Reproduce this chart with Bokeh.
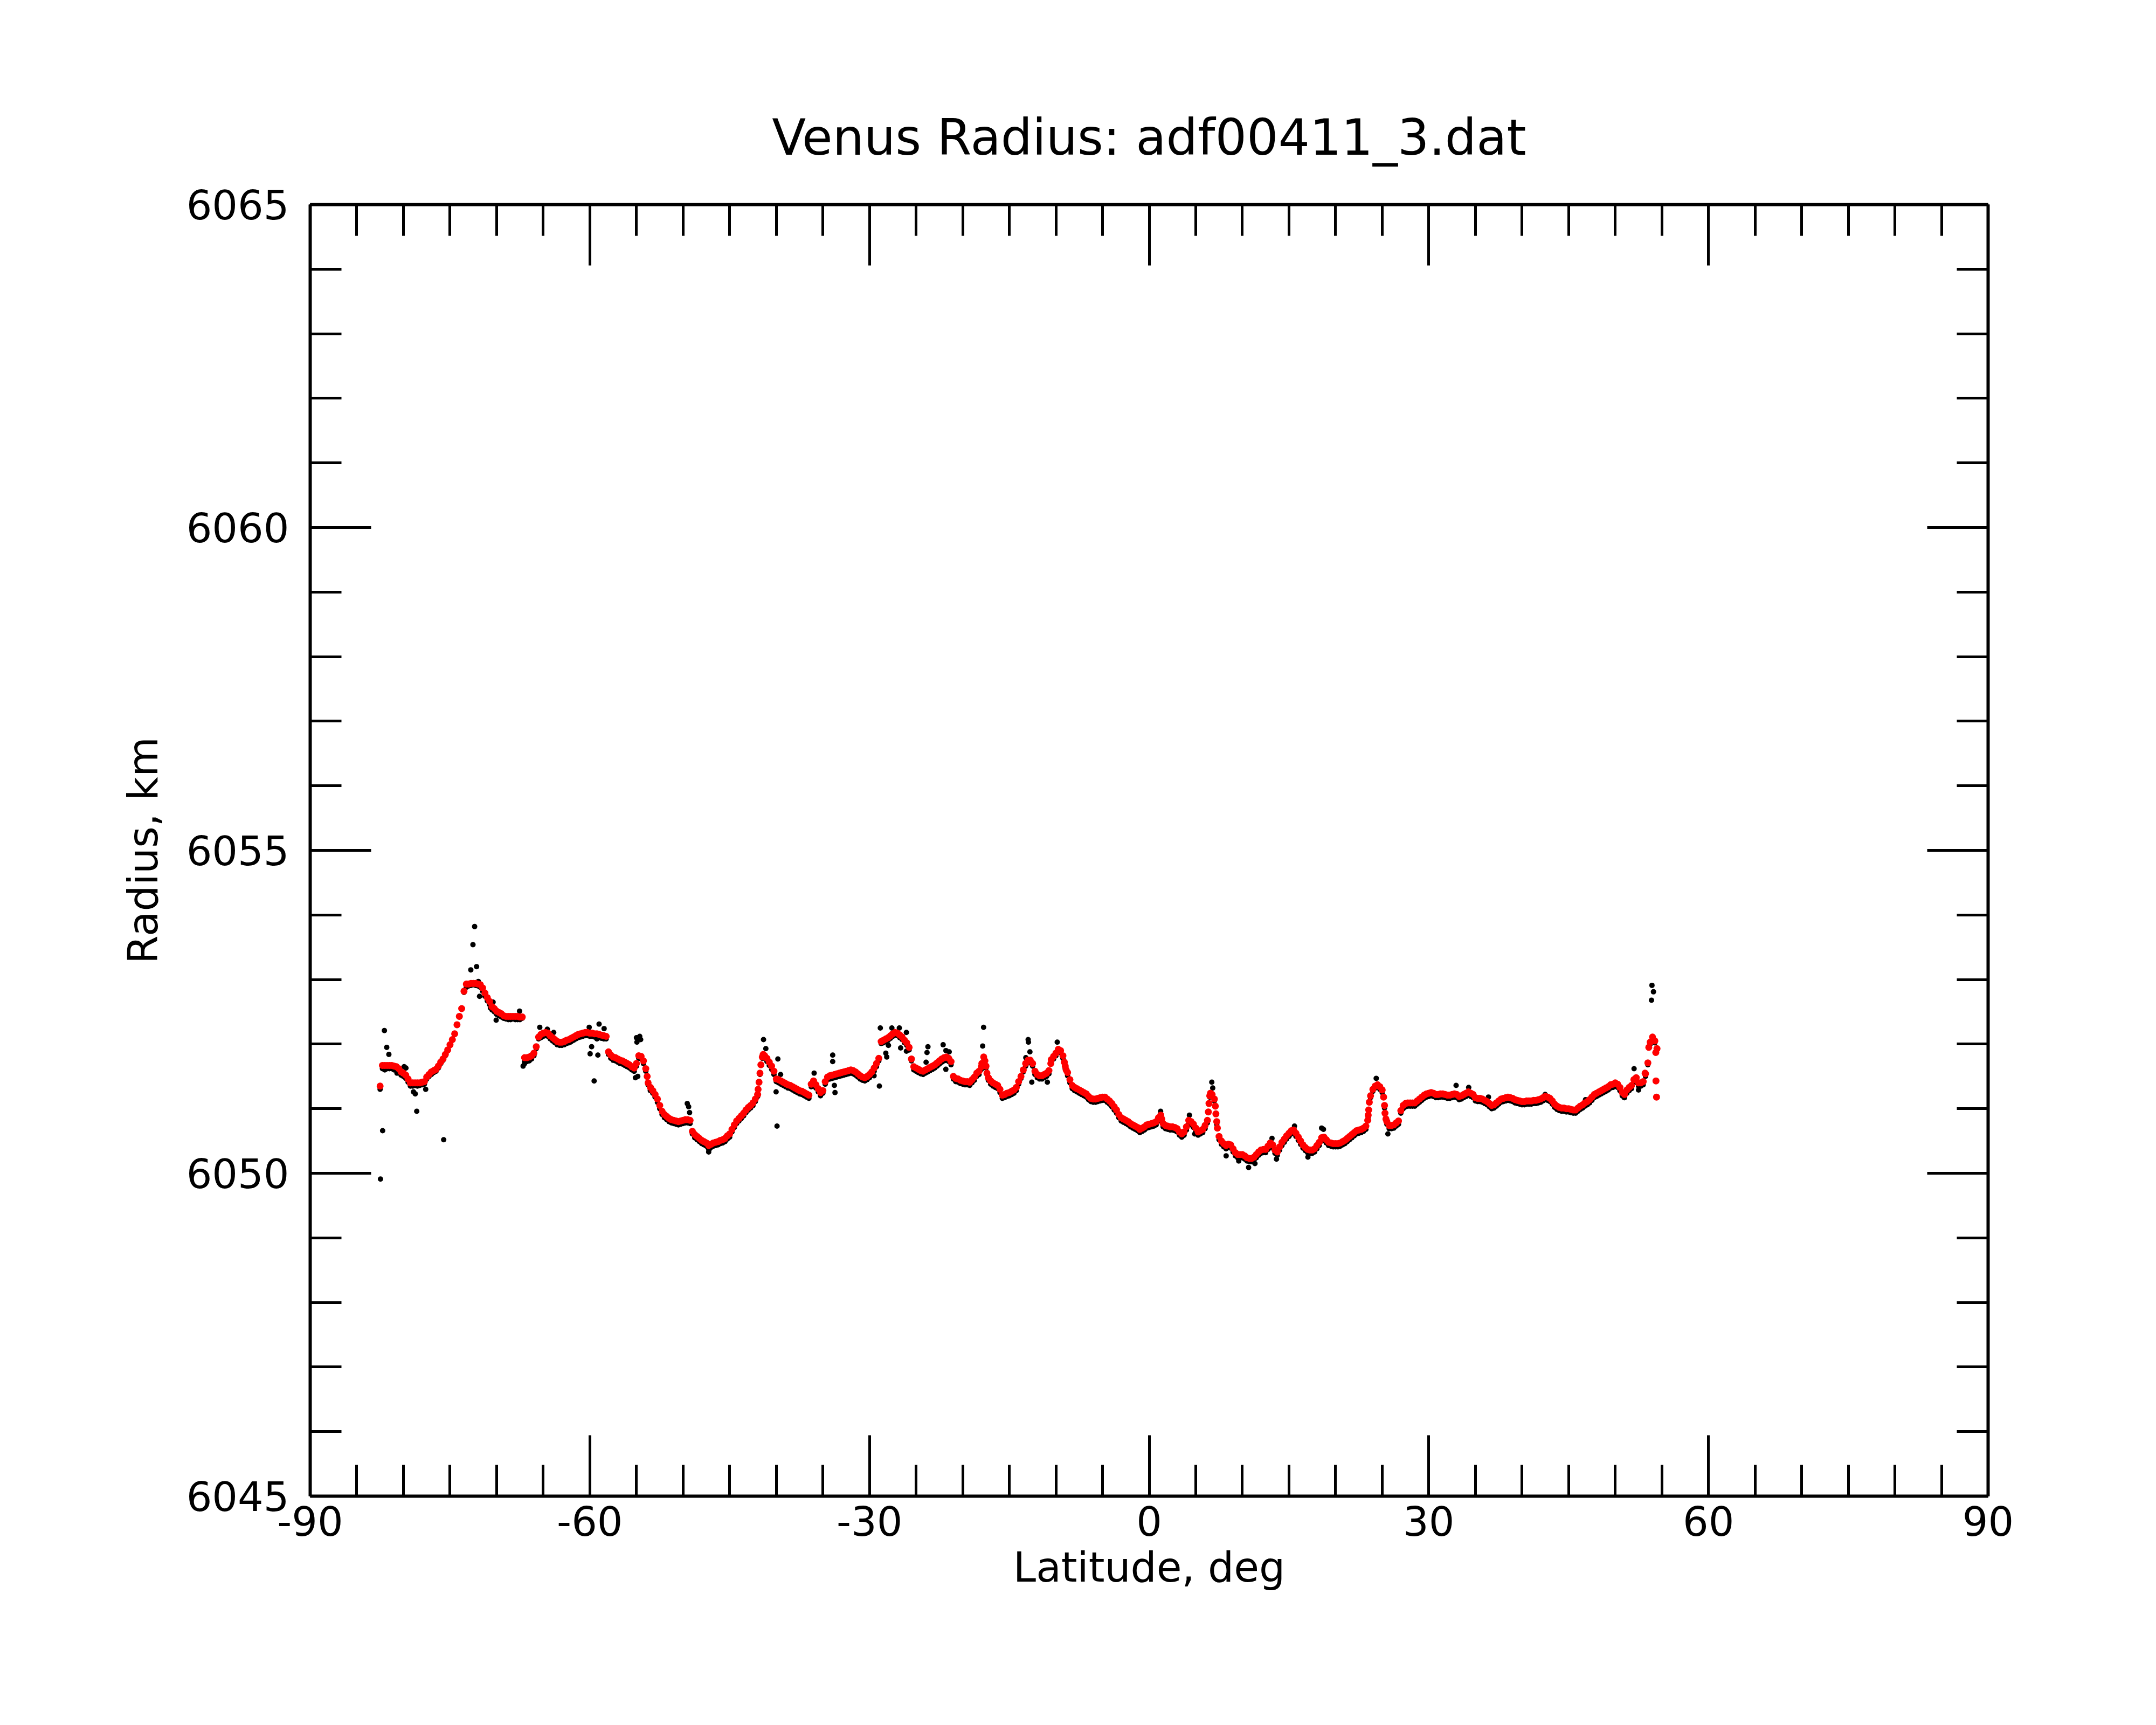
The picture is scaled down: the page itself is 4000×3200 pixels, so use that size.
import numpy as np
from bokeh.plotting import figure
from bokeh.models import (Range1d, LinearAxis, FixedTicker, PrintfTickFormatter,
                          CustomJSTickFormatter, ColumnDataSource)
from bokeh.embed import file_html
from bokeh.resources import INLINE

TITLE = "Venus Radius: adf00411_3.dat"
X_LABEL = "Latitude, deg"
Y_LABEL = "Radius, km"
x_major_ticks = [-90, -60, -30, 0, 30, 60, 90]
x_minor_ticks = list(range(-90, 91, 5))
y_major_ticks = [6045, 6050, 6055, 6060, 6065]
y_minor_ticks = list(range(6045, 6066))

# latitude sampling of the profile (deg)
LAT_START = -82.5
LAT_STEP = 0.25

# smoothed radius (red), one row = 1 degree, starting at LAT_START
smoothed_radius = [
    6051.35, 6051.67, 6051.67, 6051.67,  # -82.5
    6051.67, 6051.67, 6051.66, 6051.65,  # -81.5
    6051.62, 6051.57, 6051.55, 6051.52,  # -80.5
    6051.46, 6051.40, 6051.40, 6051.40,  # -79.5
    6051.40, 6051.40, 6051.41, 6051.42,  # -78.5
    6051.49, 6051.53, 6051.57, 6051.59,  # -77.5
    6051.61, 6051.66, 6051.72, 6051.77,  # -76.5
    6051.84, 6051.91, 6051.99, 6052.07,  # -75.5
    6052.16, 6052.30, 6052.43, 6052.55,  # -74.5
    6052.82, 6052.93, 6052.93, 6052.94,  # -73.5
    6052.94, 6052.94, 6052.93, 6052.92,  # -72.5
    6052.87, 6052.79, 6052.72, 6052.66,  # -71.5
    6052.58, 6052.55, 6052.51, 6052.49,  # -70.5
    6052.47, 6052.44, 6052.43, 6052.43,  # -69.5
    6052.43, 6052.43, 6052.43, 6052.43,  # -68.5
    6052.42, 6052.42, 6051.79, 6051.79,  # -67.5
    6051.80, 6051.82, 6051.86, 6051.96,  # -66.5
    6052.11, 6052.15, 6052.17, 6052.18,  # -65.5
    6052.17, 6052.13, 6052.10, 6052.07,  # -64.5
    6052.04, 6052.03, 6052.03, 6052.04,  # -63.5
    6052.06, 6052.07, 6052.09, 6052.11,  # -62.5
    6052.13, 6052.15, 6052.16, 6052.17,  # -61.5
    6052.18, 6052.18, 6052.17, 6052.17,  # -60.5
    6052.16, 6052.16, 6052.15, 6052.14,  # -59.5
    6052.13, 6052.12, 6051.88, 6051.83,  # -58.5
    6051.80, 6051.79, 6051.77, 6051.75,  # -57.5
    6051.74, 6051.72, 6051.70, 6051.68,  # -56.5
    6051.65, 6051.63, 6051.70, 6051.82,  # -55.5
    6051.81, 6051.74, 6051.62, 6051.40,  # -54.5
    6051.33, 6051.28, 6051.22, 6051.15,  # -53.5
    6051.05, 6050.96, 6050.91, 6050.88,  # -52.5
    6050.85, 6050.83, 6050.82, 6050.81,  # -51.5
    6050.80, 6050.81, 6050.82, 6050.83,  # -50.5
    6050.83, 6050.82, 6050.65, 6050.60,  # -49.5
    6050.57, 6050.54, 6050.51, 6050.49,  # -48.5
    6050.47, 6050.43, 6050.45, 6050.47,  # -47.5
    6050.48, 6050.49, 6050.51, 6050.52,  # -46.5
    6050.54, 6050.58, 6050.61, 6050.68,  # -45.5
    6050.75, 6050.81, 6050.85, 6050.89,  # -44.5
    6050.93, 6050.98, 6051.02, 6051.05,  # -43.5
    6051.09, 6051.15, 6051.22, 6051.55,  # -42.5
    6051.80, 6051.82, 6051.78, 6051.72,  # -41.5
    6051.66, 6051.58, 6051.46, 6051.45,  # -40.5
    6051.43, 6051.41, 6051.39, 6051.37,  # -39.5
    6051.36, 6051.34, 6051.32, 6051.30,  # -38.5
    6051.28, 6051.27, 6051.25, 6051.23,  # -37.5
    6051.21, 6051.38, 6051.43, 6051.37,  # -36.5
    6051.31, 6051.25, 6051.28, 6051.42,  # -35.5
    6051.49, 6051.51, 6051.52, 6051.53,  # -34.5
    6051.54, 6051.55, 6051.56, 6051.57,  # -33.5
    6051.58, 6051.59, 6051.60, 6051.59,  # -32.5
    6051.57, 6051.54, 6051.51, 6051.49,  # -31.5
    6051.48, 6051.50, 6051.53, 6051.57,  # -30.5
    6051.63, 6051.70, 6051.78, 6052.04,  # -29.5
    6052.06, 6052.08, 6052.10, 6052.13,  # -28.5
    6052.16, 6052.18, 6052.17, 6052.14,  # -27.5
    6052.11, 6052.06, 6052.02, 6051.95,  # -26.5
    6051.77, 6051.65, 6051.63, 6051.61,  # -25.5
    6051.59, 6051.58, 6051.60, 6051.62,  # -24.5
    6051.64, 6051.66, 6051.68, 6051.71,  # -23.5
    6051.74, 6051.77, 6051.79, 6051.80,  # -22.5
    6051.78, 6051.73, 6051.50, 6051.47,  # -21.5
    6051.46, 6051.44, 6051.43, 6051.42,  # -20.5
    6051.42, 6051.41, 6051.45, 6051.49,  # -19.5
    6051.55, 6051.58, 6051.65, 6051.80,  # -18.5
    6051.66, 6051.48, 6051.43, 6051.40,  # -17.5
    6051.38, 6051.36, 6051.30, 6051.21,  # -16.5
    6051.22, 6051.24, 6051.25, 6051.27,  # -15.5
    6051.29, 6051.33, 6051.42, 6051.50,  # -14.5
    6051.60, 6051.70, 6051.75, 6051.75,  # -13.5
    6051.70, 6051.58, 6051.53, 6051.51,  # -12.5
    6051.51, 6051.53, 6051.55, 6051.59,  # -11.5
    6051.76, 6051.81, 6051.86, 6051.92,  # -10.5
    6051.90, 6051.82, 6051.66, 6051.56,  # -9.5
    6051.45, 6051.36, 6051.33, 6051.31,  # -8.5
    6051.29, 6051.27, 6051.25, 6051.23,  # -7.5
    6051.19, 6051.16, 6051.15, 6051.15,  # -6.5
    6051.16, 6051.17, 6051.18, 6051.18,  # -5.5
    6051.15, 6051.12, 6051.08, 6051.03,  # -4.5
    6050.98, 6050.91, 6050.86, 6050.84,  # -3.5
    6050.82, 6050.80, 6050.77, 6050.75,  # -2.5
    6050.73, 6050.71, 6050.68, 6050.70,  # -1.5
    6050.72, 6050.75, 6050.76, 6050.77,  # -0.5
    6050.78, 6050.80, 6050.86, 6050.90,  # 0.5
    6050.77, 6050.74, 6050.73, 6050.72,  # 1.5
    6050.72, 6050.71, 6050.69, 6050.64,  # 2.5
    6050.61, 6050.64, 6050.72, 6050.82,  # 3.5
    6050.80, 6050.76, 6050.70, 6050.64,  # 4.5
    6050.66, 6050.68, 6050.74, 6050.82,  # 5.5
    6051.20, 6051.22, 6051.15, 6050.80,  # 6.5
    6050.57, 6050.50, 6050.46, 6050.43,  # 7.5
    6050.45, 6050.44, 6050.38, 6050.32,  # 8.5
    6050.29, 6050.29, 6050.29, 6050.27,  # 9.5
    6050.24, 6050.23, 6050.23, 6050.25,  # 10.5
    6050.29, 6050.33, 6050.36, 6050.37,  # 11.5
    6050.37, 6050.42, 6050.47, 6050.44,  # 12.5
    6050.36, 6050.33, 6050.41, 6050.48,  # 13.5
    6050.53, 6050.58, 6050.62, 6050.66,  # 14.5
    6050.67, 6050.62, 6050.56, 6050.50,  # 15.5
    6050.44, 6050.40, 6050.37, 6050.36,  # 16.5
    6050.36, 6050.38, 6050.43, 6050.48,  # 17.5
    6050.55, 6050.56, 6050.52, 6050.48,  # 18.5
    6050.47, 6050.46, 6050.46, 6050.46,  # 19.5
    6050.47, 6050.49, 6050.51, 6050.54,  # 20.5
    6050.57, 6050.60, 6050.63, 6050.66,  # 21.5
    6050.67, 6050.68, 6050.70, 6050.73,  # 22.5
    6050.90, 6051.20, 6051.30, 6051.35,  # 23.5
    6051.37, 6051.34, 6051.29, 6051.05,  # 24.5
    6050.80, 6050.74, 6050.74, 6050.75,  # 25.5
    6050.78, 6050.81, 6050.97, 6051.05,  # 26.5
    6051.08, 6051.09, 6051.09, 6051.09,  # 27.5
    6051.09, 6051.12, 6051.15, 6051.18,  # 28.5
    6051.21, 6051.23, 6051.24, 6051.25,  # 29.5
    6051.24, 6051.22, 6051.22, 6051.23,  # 30.5
    6051.23, 6051.22, 6051.21, 6051.21,  # 31.5
    6051.22, 6051.23, 6051.22, 6051.19,  # 32.5
    6051.20, 6051.22, 6051.24, 6051.26,  # 33.5
    6051.24, 6051.22, 6051.17, 6051.16,  # 34.5
    6051.16, 6051.15, 6051.13, 6051.11,  # 35.5
    6051.08, 6051.05, 6051.06, 6051.09,  # 36.5
    6051.12, 6051.15, 6051.16, 6051.17,  # 37.5
    6051.18, 6051.17, 6051.16, 6051.14,  # 38.5
    6051.13, 6051.12, 6051.11, 6051.11,  # 39.5
    6051.12, 6051.12, 6051.12, 6051.13,  # 40.5
    6051.13, 6051.14, 6051.15, 6051.17,  # 41.5
    6051.19, 6051.18, 6051.16, 6051.12,  # 42.5
    6051.07, 6051.04, 6051.02, 6051.01,  # 43.5
    6051.01, 6051.00, 6051.00, 6050.99,  # 44.5
    6050.98, 6050.98, 6051.01, 6051.04,  # 45.5
    6051.06, 6051.09, 6051.11, 6051.14,  # 46.5
    6051.18, 6051.22, 6051.24, 6051.26,  # 47.5
    6051.28, 6051.30, 6051.32, 6051.34,  # 48.5
    6051.37, 6051.38, 6051.40, 6051.38,  # 49.5
    6051.33, 6051.25, 6051.22, 6051.29,  # 50.5
    6051.33, 6051.36, 6051.45, 6051.48,  # 51.5
    6051.40, 6051.40, 6051.42, 6051.54,  # 52.5
    6051.71, 6052.03, 6052.11, 6052.05,  # 53.5
]

# extra smoothed samples on steep flanks and at the end of the pass
smoothed_extra_lat = [-53.85, -41.95, -41.85, -41.65, -41.40, -17.95, -17.62, -17.40,
                      -10.55, -9.10, -8.90, 1.35, 6.35, 6.42, 6.58, 7.10, 7.16, 7.32,
                      23.45, 23.55, 23.62, 25.15, 25.30, 25.40,
                      53.20, 53.60, 54.35, 54.48, 54.37, 54.43]
smoothed_extra_radius = [6051.50, 6051.30, 6051.41, 6051.68, 6051.84, 6051.70, 6051.74, 6051.55,
                         6051.70, 6051.72, 6051.60, 6050.84, 6050.95, 6051.08, 6051.24, 6051.04, 6050.92, 6050.70,
                         6050.82, 6050.98, 6051.10, 6051.18, 6050.93, 6050.84,
                         6051.55, 6051.95, 6051.87, 6051.93, 6051.43, 6051.18]

# raw radius (black), same latitude sampling as the smoothed profile
raw_radius = [
    6051.30, 6051.62, 6051.60, 6051.62,  # -82.5
    6051.62, 6051.62, 6051.60, 6051.60,  # -81.5
    6051.57, 6051.52, 6051.50, 6051.47,  # -80.5
    6051.41, 6051.35, 6051.35, 6051.36,  # -79.5
    6051.35, 6051.36, 6051.37, 6051.38,  # -78.5
    6051.46, 6051.50, 6051.53, 6051.56,  # -77.5
    6051.58, 6051.63, 6051.70, 6051.75,  # -76.5
    6051.82, 6051.90, 6051.98, 6052.06,  # -75.5
    6052.15, 6052.29, 6052.42, 6052.54,  # -74.5
    6052.80, 6052.88, 6052.90, 6052.91,  # -73.5
    6052.92, 6052.91, 6052.90, 6052.88,  # -72.5
    6052.82, 6052.74, 6052.67, 6052.61,  # -71.5
    6052.53, 6052.50, 6052.46, 6052.44,  # -70.5
    6052.42, 6052.40, 6052.39, 6052.38,  # -69.5
    6052.38, 6052.39, 6052.38, 6052.38,  # -68.5
    6052.38, 6052.40, 6051.73, 6051.73,  # -67.5
    6051.74, 6051.77, 6051.82, 6051.93,  # -66.5
    6052.08, 6052.10, 6052.12, 6052.13,  # -65.5
    6052.12, 6052.08, 6052.05, 6052.02,  # -64.5
    6051.99, 6051.98, 6051.98, 6051.99,  # -63.5
    6052.01, 6052.02, 6052.04, 6052.06,  # -62.5
    6052.08, 6052.10, 6052.11, 6052.12,  # -61.5
    6052.13, 6052.13, 6052.12, 6052.12,  # -60.5
    6052.11, 6052.11, 6052.10, 6052.09,  # -59.5
    6052.08, 6052.08, 6051.84, 6051.78,  # -58.5
    6051.75, 6051.74, 6051.72, 6051.70,  # -57.5
    6051.69, 6051.67, 6051.65, 6051.63,  # -56.5
    6051.60, 6051.58, 6051.66, 6051.78,  # -55.5
    6051.77, 6051.70, 6051.58, 6051.37,  # -54.5
    6051.29, 6051.24, 6051.18, 6051.10,  # -53.5
    6051.00, 6050.91, 6050.86, 6050.83,  # -52.5
    6050.80, 6050.78, 6050.77, 6050.76,  # -51.5
    6050.75, 6050.76, 6050.77, 6050.78,  # -50.5
    6050.78, 6050.77, 6050.61, 6050.55,  # -49.5
    6050.52, 6050.49, 6050.46, 6050.44,  # -48.5
    6050.42, 6050.37, 6050.40, 6050.42,  # -47.5
    6050.43, 6050.44, 6050.46, 6050.47,  # -46.5
    6050.49, 6050.53, 6050.56, 6050.64,  # -45.5
    6050.71, 6050.77, 6050.81, 6050.85,  # -44.5
    6050.89, 6050.94, 6050.98, 6051.01,  # -43.5
    6051.05, 6051.11, 6051.19, 6051.53,  # -42.5
    6051.78, 6051.78, 6051.73, 6051.67,  # -41.5
    6051.61, 6051.53, 6051.42, 6051.40,  # -40.5
    6051.38, 6051.36, 6051.34, 6051.32,  # -39.5
    6051.31, 6051.29, 6051.27, 6051.25,  # -38.5
    6051.23, 6051.22, 6051.20, 6051.18,  # -37.5
    6051.16, 6051.34, 6051.39, 6051.32,  # -36.5
    6051.26, 6051.20, 6051.24, 6051.38,  # -35.5
    6051.45, 6051.46, 6051.47, 6051.48,  # -34.5
    6051.49, 6051.50, 6051.51, 6051.52,  # -33.5
    6051.53, 6051.54, 6051.55, 6051.54,  # -32.5
    6051.52, 6051.49, 6051.46, 6051.44,  # -31.5
    6051.43, 6051.45, 6051.48, 6051.52,  # -30.5
    6051.58, 6051.65, 6051.74, 6052.01,  # -29.5
    6052.02, 6052.04, 6052.06, 6052.09,  # -28.5
    6052.12, 6052.14, 6052.13, 6052.10,  # -27.5
    6052.07, 6052.02, 6051.98, 6051.91,  # -26.5
    6051.74, 6051.60, 6051.58, 6051.56,  # -25.5
    6051.54, 6051.53, 6051.55, 6051.57,  # -24.5
    6051.59, 6051.61, 6051.63, 6051.66,  # -23.5
    6051.69, 6051.72, 6051.74, 6051.75,  # -22.5
    6051.73, 6051.68, 6051.46, 6051.42,  # -21.5
    6051.41, 6051.39, 6051.38, 6051.37,  # -20.5
    6051.37, 6051.36, 6051.40, 6051.44,  # -19.5
    6051.50, 6051.53, 6051.61, 6051.78,  # -18.5
    6051.63, 6051.44, 6051.38, 6051.35,  # -17.5
    6051.33, 6051.31, 6051.25, 6051.16,  # -16.5
    6051.17, 6051.19, 6051.20, 6051.22,  # -15.5
    6051.24, 6051.28, 6051.38, 6051.47,  # -14.5
    6051.57, 6051.66, 6051.71, 6051.71,  # -13.5
    6051.66, 6051.53, 6051.48, 6051.46,  # -12.5
    6051.46, 6051.48, 6051.50, 6051.54,  # -11.5
    6051.72, 6051.77, 6051.82, 6051.89,  # -10.5
    6051.87, 6051.78, 6051.62, 6051.51,  # -9.5
    6051.40, 6051.31, 6051.28, 6051.26,  # -8.5
    6051.24, 6051.22, 6051.20, 6051.18,  # -7.5
    6051.14, 6051.11, 6051.10, 6051.10,  # -6.5
    6051.11, 6051.12, 6051.13, 6051.13,  # -5.5
    6051.10, 6051.07, 6051.03, 6050.98,  # -4.5
    6050.93, 6050.86, 6050.81, 6050.79,  # -3.5
    6050.77, 6050.75, 6050.72, 6050.70,  # -2.5
    6050.68, 6050.66, 6050.63, 6050.65,  # -1.5
    6050.67, 6050.70, 6050.71, 6050.72,  # -0.5
    6050.73, 6050.75, 6050.81, 6050.86,  # 0.5
    6050.72, 6050.69, 6050.68, 6050.67,  # 1.5
    6050.67, 6050.66, 6050.64, 6050.59,  # 2.5
    6050.56, 6050.59, 6050.67, 6050.78,  # 3.5
    6050.75, 6050.71, 6050.65, 6050.59,  # 4.5
    6050.61, 6050.63, 6050.69, 6050.78,  # 5.5
    6051.18, 6051.19, 6051.12, 6050.76,  # 6.5
    6050.52, 6050.45, 6050.41, 6050.38,  # 7.5
    6050.40, 6050.39, 6050.33, 6050.27,  # 8.5
    6050.24, 6050.24, 6050.24, 6050.22,  # 9.5
    6050.19, 6050.18, 6050.18, 6050.20,  # 10.5
    6050.24, 6050.28, 6050.31, 6050.32,  # 11.5
    6050.32, 6050.37, 6050.42, 6050.39,  # 12.5
    6050.31, 6050.28, 6050.36, 6050.43,  # 13.5
    6050.48, 6050.53, 6050.57, 6050.61,  # 14.5
    6050.62, 6050.57, 6050.51, 6050.45,  # 15.5
    6050.39, 6050.35, 6050.32, 6050.31,  # 16.5
    6050.31, 6050.33, 6050.38, 6050.43,  # 17.5
    6050.50, 6050.51, 6050.47, 6050.43,  # 18.5
    6050.42, 6050.41, 6050.41, 6050.41,  # 19.5
    6050.42, 6050.44, 6050.46, 6050.49,  # 20.5
    6050.52, 6050.55, 6050.58, 6050.61,  # 21.5
    6050.62, 6050.63, 6050.65, 6050.68,  # 22.5
    6050.87, 6051.17, 6051.27, 6051.32,  # 23.5
    6051.34, 6051.30, 6051.25, 6051.01,  # 24.5
    6050.76, 6050.69, 6050.69, 6050.70,  # 25.5
    6050.73, 6050.76, 6050.93, 6051.00,  # 26.5
    6051.03, 6051.04, 6051.04, 6051.04,  # 27.5
    6051.04, 6051.07, 6051.10, 6051.13,  # 28.5
    6051.16, 6051.18, 6051.19, 6051.20,  # 29.5
    6051.19, 6051.17, 6051.17, 6051.18,  # 30.5
    6051.18, 6051.17, 6051.16, 6051.16,  # 31.5
    6051.17, 6051.18, 6051.17, 6051.14,  # 32.5
    6051.15, 6051.17, 6051.19, 6051.21,  # 33.5
    6051.19, 6051.17, 6051.12, 6051.11,  # 34.5
    6051.11, 6051.10, 6051.08, 6051.06,  # 35.5
    6051.03, 6051.00, 6051.01, 6051.04,  # 36.5
    6051.07, 6051.10, 6051.11, 6051.12,  # 37.5
    6051.13, 6051.12, 6051.11, 6051.09,  # 38.5
    6051.08, 6051.07, 6051.06, 6051.06,  # 39.5
    6051.07, 6051.07, 6051.07, 6051.08,  # 40.5
    6051.08, 6051.09, 6051.10, 6051.12,  # 41.5
    6051.14, 6051.13, 6051.11, 6051.07,  # 42.5
    6051.02, 6050.99, 6050.97, 6050.96,  # 43.5
    6050.96, 6050.95, 6050.95, 6050.94,  # 44.5
    6050.93, 6050.93, 6050.96, 6050.99,  # 45.5
    6051.01, 6051.04, 6051.06, 6051.09,  # 46.5
    6051.13, 6051.17, 6051.19, 6051.21,  # 47.5
    6051.23, 6051.25, 6051.27, 6051.29,  # 48.5
    6051.32, 6051.33, 6051.35, 6051.33,  # 49.5
    6051.28, 6051.20, 6051.17, 6051.24,  # 50.5
    6051.28, 6051.31, 6051.40, 6051.43,  # 51.5
    6051.35, 6051.35, 6051.37, 6051.50,  # 52.5
    6051.68, 6052.00, 6052.08, 6052.02,  # 53.5
]

# raw samples that stand away from the smoothed profile
raw_outlier_lat = [
    -82.46, -82.23, -82.04, -81.79, -81.56, -80.69, -79.92, -79.73, -79.25, -78.92,
    -78.73, -78.57, -77.61, -75.68, -72.77, -72.54, -72.36, -72.15, -71.96, -71.83,
    -70.67, -70.38, -70.05, -67.54, -67.16, -67.00, -65.37, -64.56, -63.88, -63.05,
    -62.09, -60.07, -59.97, -59.81, -59.54, -59.24, -59.14, -59.01, -58.47, -55.25,
    -55.11, -55.00, -54.95, -54.65, -54.55, -54.86, -53.51, -49.55, -49.40, -49.30,
    -47.25, -47.15, -41.37, -41.12, -39.83, -40.02, -39.92, -39.54, -35.94, -33.95,
    -33.95, -33.77, -33.70, -29.51, -28.94, -28.84, -28.25, -28.15, -27.97, -27.60,
    -26.80, -26.66, -26.04, -26.04, -23.73, -23.83, -23.93, -22.10, -21.80, -21.45,
    -21.81, -17.76, -17.86, -12.98, -12.95, -12.79, -13.23, -12.59, -10.92, -9.86,
    1.23, 3.54, 4.32, 4.89, 6.72, 6.82, 8.26, 9.61, 10.67, 11.35,
    13.18, 13.66, 15.59, 17.03, 18.50, 18.70, 24.36, 25.61, 32.93, 34.28,
    36.40, 42.48, 46.81, 50.96, 52.02, 52.50, 53.94, 54.10, 53.89,
]
raw_outlier_radius = [
    6049.91, 6050.66, 6052.21, 6051.95, 6051.84, 6051.55, 6051.65, 6051.63, 6051.36, 6051.26,
    6051.23, 6050.96, 6051.30, 6050.52, 6053.15, 6053.54, 6053.82, 6053.20, 6052.97, 6052.74,
    6052.56, 6052.65, 6052.37, 6052.51, 6051.66, 6051.70, 6052.26, 6052.23, 6052.18, 6051.99,
    6052.03, 6052.26, 6051.85, 6051.96, 6051.43, 6052.08, 6051.83, 6052.31, 6052.24, 6051.58,
    6051.48, 6052.10, 6052.03, 6052.12, 6052.07, 6051.50, 6051.28, 6051.08, 6051.03, 6050.94,
    6050.33, 6050.38, 6052.07, 6051.93, 6051.77, 6051.26, 6050.73, 6051.53, 6051.55, 6051.83,
    6051.73, 6051.36, 6051.25, 6051.51, 6051.35, 6052.25, 6051.86, 6051.80, 6051.98, 6052.25,
    6052.25, 6051.94, 6052.18, 6051.89, 6051.96, 6051.87, 6051.72, 6051.99, 6051.90, 6051.88,
    6051.61, 6052.26, 6051.97, 6052.07, 6052.03, 6051.88, 6051.79, 6051.41, 6051.41, 6052.03,
    6050.96, 6050.57, 6050.90, 6050.61, 6051.41, 6051.32, 6050.27, 6050.19, 6050.09, 6050.15,
    6050.54, 6050.22, 6050.73, 6050.25, 6050.70, 6050.68, 6051.47, 6050.61, 6051.36, 6051.33,
    6051.18, 6051.22, 6051.14, 6051.17, 6051.62, 6051.29, 6052.91, 6052.81, 6052.68,
]

FONT = "DejaVu Sans"

raw_lat = LAT_START + LAT_STEP * np.arange(len(raw_radius))
smooth_lat = LAT_START + LAT_STEP * np.arange(len(smoothed_radius))

raw_src = ColumnDataSource(dict(
    lat=list(raw_lat) + raw_outlier_lat,
    radius=raw_radius + raw_outlier_radius,
))
smooth_src = ColumnDataSource(dict(
    lat=list(smooth_lat) + smoothed_extra_lat,
    radius=smoothed_radius + smoothed_extra_radius,
))

p = figure(width=3984, height=3184,
           x_range=Range1d(-90, 90), y_range=Range1d(6045, 6065),
           output_backend="svg", toolbar_location=None,
           min_border_left=575, min_border_right=296,
           min_border_top=379, min_border_bottom=409,
           background_fill_color="white", border_fill_color="white")
p.outline_line_color = None
p.xgrid.visible = False
p.ygrid.visible = False

p.title.text = TITLE
p.title.align = "center"
p.title.text_font = FONT
p.title.text_font_size = "92px"
p.title.text_font_style = "normal"
p.title.text_color = "black"
p.title.standoff = 142


def style_axis(ax, major, minor, show_labels):
    ax.ticker = FixedTicker(ticks=major, minor_ticks=minor)
    if show_labels:
        ax.formatter = PrintfTickFormatter(format="%d")
        ax.major_label_text_font_size = "75px"
    else:
        ax.formatter = CustomJSTickFormatter(code="return ''")
        ax.major_label_text_font_size = "1px"
    ax.axis_line_width = 6
    ax.axis_line_color = "black"
    ax.major_tick_in = 113
    ax.major_tick_out = 0
    ax.minor_tick_in = 58
    ax.minor_tick_out = 0
    ax.major_tick_line_width = 5
    ax.minor_tick_line_width = 5
    ax.major_tick_line_color = "black"
    ax.minor_tick_line_color = "black"
    ax.major_label_text_font = FONT
    ax.major_label_text_color = "black"
    ax.axis_label_text_font = FONT
    ax.axis_label_text_font_size = "76px"
    ax.axis_label_text_font_style = "normal"
    ax.axis_label_text_color = "black"


xb = p.xaxis[0]
yl = p.yaxis[0]
style_axis(xb, x_major_ticks, x_minor_ticks, True)
style_axis(yl, y_major_ticks, y_minor_ticks, True)
xb.axis_label = X_LABEL
xb.major_label_standoff = 18
xb.axis_label_standoff = 11
yl.axis_label = Y_LABEL
yl.major_label_standoff = 39
yl.axis_label_standoff = 33

xa = LinearAxis()
style_axis(xa, x_major_ticks, x_minor_ticks, False)
p.add_layout(xa, "above")
yr = LinearAxis()
style_axis(yr, y_major_ticks, y_minor_ticks, False)
p.add_layout(yr, "right")

p.scatter("lat", "radius", source=raw_src, marker="circle", size=10,
          fill_color="black", line_color=None)
p.scatter("lat", "radius", source=smooth_src, marker="circle", size=13,
          fill_color="#ff0000", line_color=None)

open("out.html", "w").write(file_html(p, INLINE))
